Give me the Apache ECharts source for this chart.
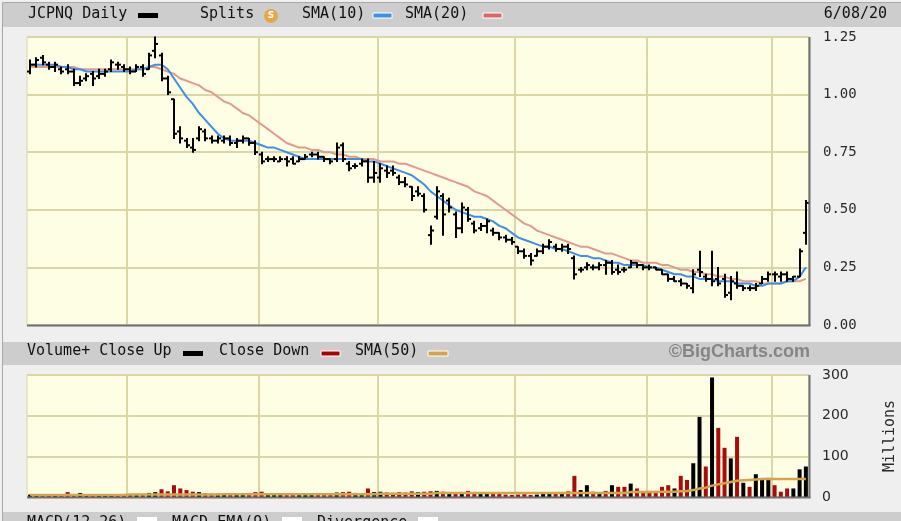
<!DOCTYPE html>
<html><head><meta charset="utf-8">
<script src="https://cdn.jsdelivr.net/npm/echarts/dist/echarts.min.js"></script>
<style>html,body{margin:0;padding:0;background:#efefef;}#c{width:901px;height:521px;}</style>
</head><body><div id="c"></div>
<script>
// trading days per month (Dec 2019 - Jun 2020)
const months = [
  {m:12, days:[9,10,11,12,13,16,17,18,19,20,23,24,26,27,30,31]},
  {m:1, days:[2,3,6,7,8,9,10,13,14,15,16,17,21,22,23,24,27,28,29,30,31]},
  {m:2, days:[3,4,5,6,7,10,11,12,13,14,18,19,20,21,24,25,26,27,28]},
  {m:3, days:[2,3,4,5,6,9,10,11,12,13,16,17,18,19,20,23,24,25,26,27,30,31]},
  {m:4, days:[1,2,3,6,7,8,9,13,14,15,16,17,20,21,22,23,24,27,28,29,30]},
  {m:5, days:[1,4,5,6,7,8,11,12,13,14,15,18,19,20,21,22,26,27,28,29]},
  {m:6, days:[1,2,3,4,5,8]}
];
const opens = [
 1.10,1.13,1.16,1.13,1.12,1.11,1.11,1.10,1.05,1.07,1.09,1.08,1.09,1.11,1.13,1.12,
 1.11,1.10,1.12,1.11,1.19,1.17,1.07,0.98,0.84,0.80,0.77,0.81,0.84,0.81,0.80,0.80,0.81,0.79,0.80,0.81,0.79,
 0.74,0.72,0.72,0.71,0.72,0.72,0.71,0.72,0.74,0.74,0.73,0.72,0.72,0.78,0.70,0.69,0.70,0.71,0.64,
 0.64,0.67,0.67,0.64,0.62,0.60,0.58,0.56,0.39,0.47,0.56,0.54,0.48,0.42,0.50,0.44,0.42,0.43,0.41,0.40,0.38,0.37,
 0.34,0.32,0.30,0.30,0.32,0.34,0.34,0.33,0.34,0.29,0.24,0.25,0.25,0.25,0.26,0.27,0.24,0.24,0.25,0.27,0.26,
 0.25,0.25,0.24,0.22,0.20,0.19,0.18,0.16,0.24,0.21,0.20,0.20,0.20,0.14,0.18,0.17,0.16,0.16,0.18,0.20,
 0.22,0.21,0.22,0.20,0.21,0.40];
const highs = [
 1.15,1.16,1.17,1.14,1.14,1.12,1.13,1.11,1.08,1.09,1.10,1.11,1.11,1.15,1.14,1.13,
 1.12,1.13,1.13,1.18,1.25,1.18,1.08,0.98,0.86,0.81,0.81,0.86,0.85,0.82,0.82,0.82,0.82,0.81,0.82,0.81,0.80,
 0.75,0.73,0.73,0.73,0.73,0.73,0.73,0.74,0.75,0.75,0.73,0.72,0.79,0.79,0.71,0.70,0.72,0.72,0.71,
 0.70,0.69,0.69,0.65,0.64,0.60,0.60,0.57,0.43,0.60,0.57,0.55,0.49,0.53,0.51,0.45,0.44,0.46,0.42,0.40,0.39,0.38,
 0.34,0.33,0.31,0.33,0.35,0.37,0.35,0.35,0.35,0.30,0.25,0.27,0.26,0.27,0.28,0.28,0.26,0.25,0.28,0.27,0.26,
 0.26,0.25,0.24,0.22,0.21,0.20,0.18,0.24,0.32,0.22,0.32,0.25,0.22,0.21,0.23,0.17,0.17,0.18,0.21,0.23,
 0.23,0.23,0.23,0.21,0.33,0.54];
const lows = [
 1.09,1.12,1.13,1.11,1.10,1.09,1.09,1.04,1.04,1.06,1.04,1.07,1.08,1.10,1.11,1.10,
 1.09,1.10,1.08,1.11,1.16,1.06,1.00,0.81,0.79,0.77,0.75,0.80,0.80,0.79,0.79,0.79,0.78,0.77,0.79,0.78,0.74,
 0.70,0.71,0.71,0.71,0.69,0.70,0.71,0.72,0.73,0.72,0.71,0.70,0.71,0.71,0.67,0.68,0.69,0.62,0.62,
 0.62,0.64,0.65,0.61,0.60,0.54,0.56,0.49,0.35,0.46,0.39,0.49,0.38,0.40,0.45,0.40,0.41,0.40,0.39,0.37,0.36,0.35,
 0.31,0.29,0.26,0.30,0.31,0.33,0.32,0.32,0.31,0.20,0.23,0.24,0.24,0.24,0.22,0.22,0.22,0.23,0.25,0.25,0.24,
 0.24,0.24,0.22,0.19,0.19,0.17,0.16,0.14,0.21,0.19,0.17,0.17,0.12,0.11,0.16,0.15,0.15,0.15,0.18,0.19,
 0.19,0.19,0.19,0.19,0.21,0.35];
const closes = [
 1.13,1.15,1.14,1.12,1.13,1.10,1.10,1.05,1.06,1.08,1.07,1.09,1.10,1.14,1.13,1.11,
 1.10,1.12,1.09,1.17,1.22,1.07,1.01,0.83,0.81,0.78,0.76,0.85,0.81,0.80,0.81,0.81,0.79,0.80,0.81,0.79,0.75,
 0.71,0.72,0.72,0.72,0.71,0.70,0.72,0.73,0.74,0.73,0.72,0.71,0.77,0.72,0.68,0.69,0.71,0.64,0.66,
 0.68,0.66,0.66,0.62,0.61,0.56,0.57,0.50,0.41,0.58,0.48,0.51,0.42,0.51,0.46,0.41,0.43,0.45,0.40,0.38,0.37,0.36,
 0.32,0.30,0.28,0.32,0.34,0.36,0.33,0.34,0.33,0.22,0.24,0.26,0.25,0.26,0.27,0.23,0.23,0.24,0.27,0.26,0.25,
 0.25,0.24,0.22,0.20,0.19,0.18,0.17,0.22,0.23,0.20,0.19,0.18,0.13,0.19,0.17,0.16,0.16,0.17,0.20,0.22,
 0.22,0.22,0.20,0.21,0.32,0.53];
const sma10 = [
 1.13,1.13,1.13,1.13,1.13,1.12,1.12,1.11,1.11,1.10,1.10,1.10,1.10,1.10,1.10,1.10,
 1.10,1.11,1.11,1.12,1.13,1.13,1.11,1.07,1.03,0.99,0.96,0.92,0.89,0.86,0.83,0.81,0.80,0.80,0.80,0.80,0.79,
 0.78,0.77,0.77,0.76,0.75,0.74,0.73,0.72,0.72,0.72,0.72,0.72,0.72,0.72,0.72,0.72,0.72,0.71,0.71,
 0.70,0.69,0.68,0.67,0.66,0.65,0.63,0.61,0.58,0.56,0.54,0.52,0.50,0.49,0.48,0.47,0.47,0.46,0.45,0.43,0.42,0.40,
 0.38,0.37,0.36,0.35,0.34,0.34,0.33,0.33,0.32,0.31,0.30,0.30,0.29,0.29,0.28,0.27,0.27,0.26,0.26,0.26,0.26,
 0.25,0.25,0.24,0.23,0.22,0.22,0.21,0.21,0.20,0.20,0.20,0.19,0.19,0.19,0.18,0.18,0.18,0.17,0.17,0.18,
 0.18,0.18,0.19,0.19,0.21,0.25];
const sma20 = [
 1.12,1.12,1.12,1.12,1.12,1.12,1.12,1.12,1.11,1.11,1.11,1.11,1.11,1.11,1.11,1.11,
 1.11,1.11,1.11,1.12,1.12,1.11,1.10,1.09,1.07,1.06,1.05,1.04,1.02,1.01,0.99,0.97,0.96,0.94,0.92,0.91,0.89,
 0.87,0.85,0.83,0.81,0.79,0.78,0.77,0.77,0.76,0.76,0.75,0.75,0.74,0.74,0.73,0.73,0.72,0.72,0.72,
 0.71,0.71,0.71,0.70,0.70,0.69,0.68,0.67,0.66,0.65,0.64,0.63,0.62,0.61,0.60,0.58,0.57,0.56,0.54,0.52,0.50,0.48,
 0.46,0.44,0.43,0.41,0.40,0.39,0.38,0.37,0.36,0.35,0.34,0.34,0.33,0.32,0.31,0.31,0.30,0.29,0.28,0.28,0.27,
 0.27,0.27,0.26,0.26,0.25,0.24,0.24,0.23,0.23,0.22,0.22,0.21,0.21,0.20,0.20,0.19,0.19,0.19,0.18,0.18,
 0.18,0.18,0.19,0.19,0.19,0.20];
// volume in millions
const volume = [
 6,5,6,4,5,5,12,7,10,5,5,5,4,6,5,5,
 5,6,6,10,12,19,14,29,21,17,13,12,9,8,8,7,8,7,8,7,12,
 13,6,5,5,6,5,5,6,6,5,5,5,11,12,13,10,9,21,12,
 13,11,10,12,11,14,12,13,14,15,13,10,9,10,15,12,9,10,11,9,6,5,
 6,7,5,6,9,12,10,9,14,52,17,29,13,10,15,29,25,25,33,21,13,
 15,15,25,29,21,52,42,83,197,75,294,170,121,95,148,35,25,56,43,47,
 29,13,21,21,68,75];
// bar colour per day: u = close up (black), d = close down (red)
const volDirDec = "uudduddduuduuudd";
const volDirJan = "duduuddddddudduuduudd";
const volDirFeb = "duuudduuudddudduudu";
const volDirMar = "uddddduddudududduudddd";
const volDirApr = "ddduuududduudududdudd";
const volDirMay = "ddddudduududdududuuu";
const volDirJun = "ddduuu";
const volSma50 = [
 5,5,5,5,5,5,5,5,5,5,5,5,5,5,5,5,
 6,6,6,6,6,6,6,6,6,6,6,6,6,6,6,7,7,7,7,7,7,
 7,7,7,7,7,7,7,7,7,7,7,7,7,7,7,7,7,7,7,
 8,8,8,8,8,8,8,8,8,10,10,10,10,10,10,10,10,10,10,10,10,10,
 10,10,10,10,10,10,10,10,10,10,10,10,10,10,10,10,10,10,12,12,12,
 12,12,13,13,13,14,15,17,21,23,28,31,34,37,40,41,42,43,44,44,
 44,44,44,44,44,44];
const priceTicks = [0, 0.25, 0.5, 0.75, 1.0, 1.25];
const volTicks = [0, 100, 200, 300];

const categories = [];
const monthStart = new Set();
months.forEach(mo => {
  monthStart.add(categories.length);
  mo.days.forEach(d => categories.push(mo.m + '/' + (d < 10 ? '0' + d : d)));
});
monthStart.delete(0);

const ohlc = opens.map((o, i) => [i, o, highs[i], lows[i], closes[i]]);
const dirs = volDirDec + volDirJan + volDirFeb + volDirMar + volDirApr + volDirMay + volDirJun;
const volUp = volume.map((v, i) => dirs[i] === 'u' ? v : '-');
const volDown = volume.map((v, i) => dirs[i] === 'd' ? v : '-');

const GRID = '#dad6a6';
const mono = 'DejaVu Sans Mono';
const F = '15px "DejaVu Sans Mono"';
const chart = echarts.init(document.getElementById('c'), null, {renderer: 'canvas'});

function xAxisFor(gi) {
  return {
    type: 'category', gridIndex: gi, data: categories, boundaryGap: true,
    axisLine: {show: false}, axisTick: {show: false}, axisLabel: {show: false},
    splitLine: {show: true, interval: (idx) => monthStart.has(idx), lineStyle: {color: GRID, width: 2}}
  };
}

chart.setOption({
  animation: false,
  backgroundColor: '#efefef',
  grid: [
    {left: 27, top: 37, width: 782, height: 288, show: true, backgroundColor: '#fefee5', borderColor: GRID, borderWidth: 1,
     containLabel: false, outerBoundsMode: 'none'},
    {left: 27, top: 375, width: 782, height: 122, show: true, backgroundColor: '#fefee5', borderColor: GRID, borderWidth: 1,
     containLabel: false, outerBoundsMode: 'none'}
  ],
  xAxis: [xAxisFor(0), xAxisFor(1)],
  yAxis: [
    {type: 'value', gridIndex: 0, position: 'right', min: priceTicks[0], max: priceTicks[priceTicks.length - 1], interval: 0.25,
     axisLine: {show: false}, axisTick: {show: false},
     axisLabel: {margin: 14, formatter: v => v.toFixed(2), fontFamily: mono, fontSize: 14, color: '#2a2a2a'},
     splitLine: {lineStyle: {color: GRID, width: 2}}},
    {type: 'value', gridIndex: 1, position: 'right', min: volTicks[0], max: volTicks[volTicks.length - 1], interval: 100,
     axisLine: {show: false}, axisTick: {show: false},
     axisLabel: {margin: 13, fontFamily: 'DejaVu Sans', fontSize: 14, color: '#2a2a2a'},
     splitLine: {lineStyle: {color: GRID, width: 2}},
     name: 'Millions', nameLocation: 'middle', nameRotate: 90, nameGap: 74,
     nameTextStyle: {fontFamily: mono, fontSize: 15, color: '#2a2a2a'}}
  ],
  series: [
    {type: 'line', name: 'SMA(20)', xAxisIndex: 0, yAxisIndex: 0, data: sma20, showSymbol: false, z: 2,
     lineStyle: {color: '#e39a8e', width: 2}},
    {type: 'line', name: 'SMA(10)', xAxisIndex: 0, yAxisIndex: 0, data: sma10, showSymbol: false, z: 3,
     lineStyle: {color: '#3f8fe4', width: 2}},
    {type: 'custom', name: 'JCPNQ', xAxisIndex: 0, yAxisIndex: 0, data: ohlc, z: 5,
     encode: {x: 0, y: [1, 2, 3, 4]},
     renderItem: function (params, api) {
       const i = api.value(0);
       const h = api.coord([i, api.value(2)]);
       const l = api.coord([i, api.value(3)]);
       const o = api.coord([i, api.value(1)]);
       const c = api.coord([i, api.value(4)]);
       const x = Math.round(h[0]);
       const st = {stroke: '#000', lineWidth: 2};
       return {type: 'group', children: [
         {type: 'line', shape: {x1: x, y1: h[1] - 0.5, x2: x, y2: l[1] + 0.5}, style: st},
         {type: 'line', shape: {x1: x - 3, y1: o[1], x2: x, y2: o[1]}, style: st},
         {type: 'line', shape: {x1: x, y1: c[1], x2: x + 3, y2: c[1]}, style: st}
       ]};
     }},
    {type: 'bar', name: 'Close Up', xAxisIndex: 1, yAxisIndex: 1, data: volUp, barWidth: 4, barGap: '-100%',
     itemStyle: {color: '#000'}, z: 3},
    {type: 'bar', name: 'Close Down', xAxisIndex: 1, yAxisIndex: 1, data: volDown, barWidth: 4, barGap: '-100%',
     itemStyle: {color: '#aa0a0a'}, z: 3},
    {type: 'line', name: 'SMA(50)', xAxisIndex: 1, yAxisIndex: 1, data: volSma50, showSymbol: false, z: 4,
     lineStyle: {color: '#d6a24a', width: 2.5}}
  ],
  graphic: [
    {type: 'rect', shape: {x: 3, y: 3, width: 898, height: 24}, style: {fill: '#cdcdcd'}, z: 1},
    {type: 'line', shape: {x1: 2.5, y1: 2.5, x2: 901, y2: 2.5}, style: {stroke: '#a8a8a8', lineWidth: 1}, z: 2},
    {type: 'line', shape: {x1: 2.5, y1: 2.5, x2: 2.5, y2: 521}, style: {stroke: '#a8a8a8', lineWidth: 1}, z: 2},
    {type: 'rect', shape: {x: 3, y: 342, width: 898, height: 23}, style: {fill: '#cdcdcd'}, z: 1},
    {type: 'rect', shape: {x: 3, y: 512, width: 898, height: 12}, style: {fill: '#cdcdcd'}, z: 1},
    // plot shadows (right / bottom)
    {type: 'line', shape: {x1: 809.5, y1: 37, x2: 809.5, y2: 326}, style: {stroke: '#707070', lineWidth: 2}, z: 50},
    {type: 'line', shape: {x1: 27, y1: 325.5, x2: 810.5, y2: 325.5}, style: {stroke: '#707070', lineWidth: 2}, z: 50},
    {type: 'line', shape: {x1: 809.5, y1: 375, x2: 809.5, y2: 498}, style: {stroke: '#707070', lineWidth: 2}, z: 50},
    {type: 'line', shape: {x1: 27, y1: 497.5, x2: 810.5, y2: 497.5}, style: {stroke: '#707070', lineWidth: 2}, z: 50},
    // top legend
    {type: 'text', left: 28, top: 7, style: {text: 'JCPNQ Daily', font: F, fill: '#111'}, z: 10},
    {type: 'rect', shape: {x: 138, y: 13, width: 20, height: 5}, style: {fill: '#000'}, z: 10},
    {type: 'text', left: 200, top: 7, style: {text: 'Splits', font: F, fill: '#111'}, z: 10},
    {type: 'circle', shape: {cx: 271, cy: 16, r: 7}, style: {fill: '#e5a74c'}, z: 10},
    {type: 'text', x: 271, y: 16, style: {text: 'S', font: 'bold 9px "DejaVu Sans"', fill: '#fff', align: 'center', verticalAlign: 'middle'}, z: 11},
    {type: 'text', left: 302, top: 7, style: {text: 'SMA(10)', font: F, fill: '#111'}, z: 10},
    {type: 'rect', shape: {x: 373, y: 13, width: 19, height: 5}, style: {fill: '#3f8fe4', stroke: '#fff', lineWidth: 1}, z: 10},
    {type: 'text', left: 405, top: 7, style: {text: 'SMA(20)', font: F, fill: '#111'}, z: 10},
    {type: 'rect', shape: {x: 483, y: 13, width: 19, height: 5}, style: {fill: '#d9666a', stroke: '#fff', lineWidth: 1}, z: 10},
    {type: 'text', right: 14, top: 7, style: {text: '6/08/20', font: F, fill: '#111'}, z: 10},
    // volume legend
    {type: 'text', left: 27, top: 344, style: {text: 'Volume+ Close Up', font: F, fill: '#111'}, z: 10},
    {type: 'rect', shape: {x: 183, y: 351, width: 20, height: 5}, style: {fill: '#000'}, z: 10},
    {type: 'text', left: 219, top: 344, style: {text: 'Close Down', font: F, fill: '#111'}, z: 10},
    {type: 'rect', shape: {x: 321, y: 351, width: 19, height: 5}, style: {fill: '#b00000', stroke: '#fff', lineWidth: 1}, z: 10},
    {type: 'text', left: 355, top: 344, style: {text: 'SMA(50)', font: F, fill: '#111'}, z: 10},
    {type: 'rect', shape: {x: 428, y: 351, width: 20, height: 5}, style: {fill: '#d6a24a', stroke: '#fff', lineWidth: 1}, z: 10},
    {type: 'text', right: 91, top: 343, style: {text: '\u00A9BigCharts.com', font: 'bold 18px "Liberation Sans"', fill: '#858585'}, z: 10},
    // bottom (cut) legend
    {type: 'text', left: 27, top: 516, style: {text: 'MACD(12,26)', font: F, fill: '#111'}, z: 10},
    {type: 'rect', shape: {x: 137, y: 517, width: 20, height: 8}, style: {fill: '#fff'}, z: 10},
    {type: 'text', left: 172, top: 516, style: {text: 'MACD EMA(9)', font: F, fill: '#111'}, z: 10},
    {type: 'rect', shape: {x: 282, y: 517, width: 20, height: 8}, style: {fill: '#fff'}, z: 10},
    {type: 'text', left: 317, top: 516, style: {text: 'Divergence', font: F, fill: '#111'}, z: 10},
    {type: 'rect', shape: {x: 418, y: 517, width: 20, height: 8}, style: {fill: '#fff'}, z: 10}
  ]
});
</script>
</body></html>
